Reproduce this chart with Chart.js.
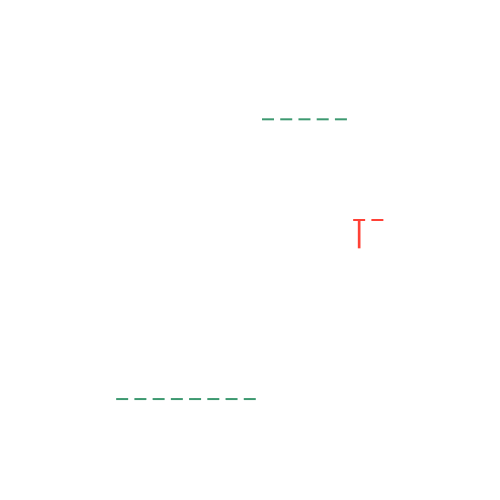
<!DOCTYPE html>
<html>
<head>
<meta charset="utf-8">
<title>OHLC</title>
<script src="https://cdn.jsdelivr.net/npm/chart.js@4"></script>
<style>
  html, body { margin: 0; padding: 0; background: #fff; }
  #wrap { width: 500px; height: 500px; }
</style>
</head>
<body>
<div id="wrap"><canvas id="ohlcChart"></canvas></div>
<script>
// Dados das barras (índice 1..15)
const dias = [1, 2, 3, 4, 5, 6, 7, 8, 9, 10, 11, 12, 13, 14, 15];
const abertura   = [100, 100, 100, 100, 100, 100, 100, 100, 120, 120, 120, 120, 120, 112.8, 112.8];
const maxima     = [100, 100, 100, 100, 100, 100, 100, 100, 120, 120, 120, 120, 120, 112.8, 112.8];
const minima     = [100, 100, 100, 100, 100, 100, 100, 100, 120, 120, 120, 120, 120, 110.8, 112.8];
const fechamento = [100, 100, 100, 100, 100, 100, 100, 100, 120, 120, 120, 120, 120, 112.8, 112.8];
const cores = ['up', 'up', 'up', 'up', 'up', 'up', 'up', 'up', 'up', 'up', 'up', 'up', 'up', 'down', 'down'];

const VERDE = '#3d9970';
const VERMELHO = '#ff4136';
const corBarra = cores.map(c => c === 'up' ? VERDE : VERMELHO);

// Pavio (mínima -> máxima) como barra flutuante fina
const pavios = dias.map((d, i) => ({ x: d, y: [minima[i], maxima[i]] }));
// Traço de abertura/fechamento
const tracos = dias.map((d, i) => ({ x: d, y: fechamento[i] }));

const config = {
    data: {
        datasets: [
            {
                type: 'bar',
                data: pavios,
                backgroundColor: corBarra,
                borderWidth: 0,
                barThickness: 2,
                grouped: false,
            },
            {
                type: 'scatter',
                data: tracos,
                pointStyle: 'line',
                pointRadius: 6,
                pointHoverRadius: 6,
                pointBorderWidth: 2,
                borderColor: corBarra,
                backgroundColor: corBarra,
            },
        ],
    },
    options: {
        responsive: true,
        maintainAspectRatio: false,
        animation: false,
        layout: { padding: 0 },
        plugins: {
            legend: { display: false },
            tooltip: { enabled: false },
        },
        scales: {
            x: { type: 'linear', display: false, min: -3.05, max: 19.075 },
            y: { type: 'linear', display: false, min: 93.356, max: 127.958 },
        },
    },
};

const ctx = document.getElementById('ohlcChart').getContext('2d');
new Chart(ctx, config);
</script>
</body>
</html>
